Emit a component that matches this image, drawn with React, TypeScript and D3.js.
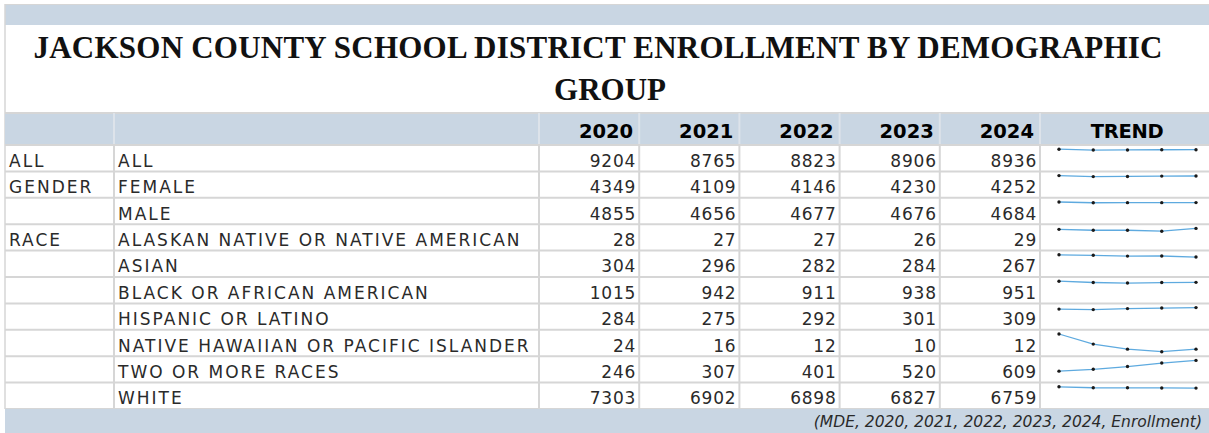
import React from "react";
import * as d3 from "d3";

const years = ["2020", "2021", "2022", "2023", "2024"];
const groups = ["ALL", "GENDER", "", "RACE", "", "", "", "", "", ""];
const categories = [
  "ALL",
  "FEMALE",
  "MALE",
  "ALASKAN NATIVE OR NATIVE AMERICAN",
  "ASIAN",
  "BLACK OR AFRICAN AMERICAN",
  "HISPANIC OR LATINO",
  "NATIVE HAWAIIAN OR PACIFIC ISLANDER",
  "TWO OR MORE RACES",
  "WHITE",
];
const enroll2020 = [9204, 4349, 4855, 28, 304, 1015, 284, 24, 246, 7303];
const enroll2021 = [8765, 4109, 4656, 27, 296, 942, 275, 16, 307, 6902];
const enroll2022 = [8823, 4146, 4677, 27, 282, 911, 292, 12, 401, 6898];
const enroll2023 = [8906, 4230, 4676, 26, 284, 938, 301, 10, 520, 6827];
const enroll2024 = [8936, 4252, 4684, 29, 267, 951, 309, 12, 609, 6759];
const titleLine1 = "JACKSON COUNTY SCHOOL DISTRICT ENROLLMENT BY DEMOGRAPHIC";
const titleLine2 = "GROUP";
const trendLabel = "TREND";
const sourceNote = "(MDE, 2020, 2021, 2022, 2023, 2024, Enrollment)";

const W = 1209;
const H = 433;
const BLUE = "#c9d6e3";
const GRID = "#d6d6d6";
const BODY_FONT = "'DejaVu Sans', sans-serif";
const TEXT = "#2a2a2a";

export default function App() {
  const series = [enroll2020, enroll2021, enroll2022, enroll2023, enroll2024];
  const rows = categories.map((c, i) => ({
    group: groups[i],
    name: c,
    values: series.map((s) => s[i]),
  }));

  const left = 5;
  const right = W;
  const col1 = 114;
  const yearX = d3.scaleBand<string>().domain(years).range([539, 1040]);
  const trendLeft = 1040;
  const headerTop = 113;
  const headerBottom = 145;
  const rowY = d3
    .scaleBand<number>()
    .domain(d3.range(categories.length))
    .range([headerBottom, 409]);
  const footerTop = 409;

  const globalMin = d3.min(series.flat()) as number;
  const sx = d3.scalePoint<string>().domain(years).range([1059, 1196]);
  const rh = rowY.bandwidth();

  const vLines = [col1, ...years.map((y) => yearX(y) as number), trendLeft];

  return (
    <svg
      width={W}
      height={H}
      style={{ position: "absolute", left: 0, top: 0, background: "#fff" }}
    >
      {/* top band */}
      <rect x={left} y={5} width={right - left} height={20} fill={BLUE} />
      <line x1={left} x2={right} y1={4.5} y2={4.5} stroke={GRID} />
      <line x1={left} x2={left} y1={4} y2={footerTop} stroke={GRID} strokeWidth={1.5} />

      {/* title */}
      <text
        x={598}
        y={58}
        textAnchor="middle"
        fontFamily="'Liberation Serif', serif"
        fontWeight="bold"
        fontSize={31}
        fill="#111"
        textLength={1129}
        lengthAdjust="spacing"
      >
        {titleLine1}
      </text>
      <text
        x={610}
        y={100}
        textAnchor="middle"
        fontFamily="'Liberation Serif', serif"
        fontWeight="bold"
        fontSize={31}
        fill="#111"
      >
        {titleLine2}
      </text>

      {/* header */}
      <rect x={left} y={headerTop} width={right - left} height={headerBottom - headerTop} fill={BLUE} />
      <line x1={left} x2={right} y1={headerTop} y2={headerTop} stroke={GRID} strokeWidth={2} />
      {vLines.map((x, i) => (
        <line key={"hv" + i} x1={x} x2={x} y1={headerTop} y2={headerBottom} stroke="#dde3ea" strokeWidth={2} />
      ))}
      {years.map((y) => (
        <text
          key={"hy" + y}
          x={(yearX(y) as number) + yearX.bandwidth() - 6}
          y={headerBottom - 7}
          textAnchor="end"
          fontFamily={BODY_FONT}
          fontWeight="bold"
          fontSize={19.5}
          fill="#000"
        >
          {y}
        </text>
      ))}
      <text
        x={1127}
        y={headerBottom - 7}
        textAnchor="middle"
        fontFamily={BODY_FONT}
        fontWeight="bold"
        fontSize={19.5}
        fill="#000"
        letterSpacing={-0.3}
      >
        {trendLabel}
      </text>

      {/* body grid */}
      {rows.map((r, i) => {
        const y0 = rowY(i) as number;
        return (
          <line key={"hl" + i} x1={left} x2={right} y1={y0 + rh} y2={y0 + rh} stroke={GRID} strokeWidth={2} />
        );
      })}
      <line x1={left} x2={right} y1={headerBottom} y2={headerBottom} stroke={GRID} strokeWidth={2} />
      {vLines.map((x, i) => (
        <line key={"bv" + i} x1={x} x2={x} y1={headerBottom} y2={footerTop} stroke={GRID} strokeWidth={2} />
      ))}

      {/* body text and sparklines */}
      {rows.map((r, i) => {
        const y0 = rowY(i) as number;
        const base = y0 + rh - 4.6;
        const rowMax = d3.max(r.values) as number;
        const sy = d3.scaleLinear().domain([globalMin, rowMax]).range([y0 + 21.9, y0 + 4.2]);
        const pts = r.values.map((v, k) => [sx(years[k]) as number, sy(v)] as [number, number]);
        const path = d3.line()(pts) as string;
        return (
          <g key={"row" + i}>
            {r.group && (
              <text x={9} y={base} fontFamily={BODY_FONT} fontSize={17} fill={TEXT} letterSpacing={2}>
                {r.group}
              </text>
            )}
            <text x={118} y={base} fontFamily={BODY_FONT} fontSize={17} fill={TEXT} letterSpacing={2}>
              {r.name}
            </text>
            {r.values.map((v, k) => (
              <text
                key={"v" + k}
                x={(yearX(years[k]) as number) + yearX.bandwidth() - 3}
                y={base}
                textAnchor="end"
                fontFamily={BODY_FONT}
                fontSize={17}
                fill={TEXT}
                letterSpacing={0.8}
              >
                {v}
              </text>
            ))}
            <path d={path} fill="none" stroke="#5eaadf" strokeWidth={1.3} />
            {pts.map((p, k) => (
              <circle key={"m" + k} cx={p[0]} cy={p[1]} r={1.7} fill="#1a1a1a" />
            ))}
          </g>
        );
      })}

      {/* footer */}
      <rect x={left} y={footerTop} width={right - left} height={H - footerTop} fill={BLUE} />
      <text
        x={1202}
        y={427}
        textAnchor="end"
        fontFamily={BODY_FONT}
        fontStyle="italic"
        fontSize={15.5}
        fill="#2a2a2a"
      >
        {sourceNote}
      </text>
    </svg>
  );
}
